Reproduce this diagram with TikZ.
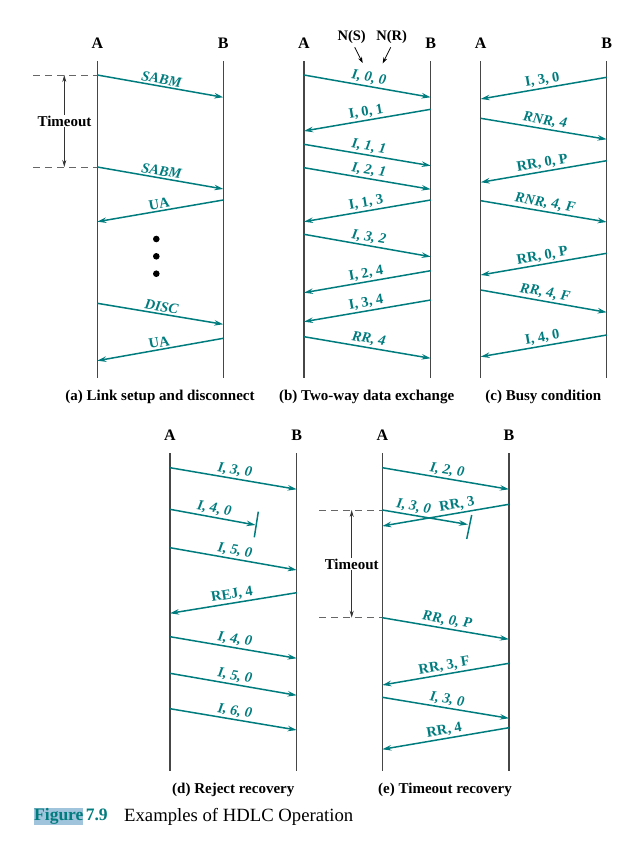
\documentclass[tikz,border=0pt]{standalone}
\usepackage{fontspec}
\setmainfont{Liberation Serif}
\usetikzlibrary{arrows.meta}
\definecolor{tealc}{RGB}{0,124,126}
\definecolor{hilite}{RGB}{160,196,220}
\definecolor{lifegray}{RGB}{70,70,70}
\newcommand{\hm}[7]{%
  \coordinate (#1s) at (#2,#3);
  \coordinate (#1e) at (#4,#5);
  \draw[msg] (#1s) -- node[#6] (#1l) {#7} (#1e);
}
\begin{document}
\begin{tikzpicture}[x=1pt,y=-1pt,
  msg/.style={draw=tealc,line width=1.5pt,-{Stealth[length=9pt,width=5.5pt]}},
  lblbase/.style={text=tealc,midway,above,sloped,inner sep=1.5pt},
  lit/.style={lblbase,font=\fontsize{14.5}{16}\selectfont\bfseries\itshape},
  lup/.style={lblbase,font=\fontsize{14.5}{16}\selectfont\bfseries},
  hdr/.style={font=\fontsize{16}{18}\selectfont\bfseries,inner sep=0pt},
  capt/.style={font=\fontsize{15}{17}\selectfont\bfseries,inner sep=0pt},
  lifeline/.style={draw=lifegray,line width=1.2pt},
  dashln/.style={draw=black!60,line width=1pt,dash pattern=on 7pt off 5pt},
  tmarrow/.style={draw=black!80,line width=0.9pt,{Stealth[length=7pt,width=4pt]}-{Stealth[length=7pt,width=4pt]}},
  tmlabel/.style={font=\fontsize{15}{17}\selectfont\bfseries,fill=white,inner sep=1pt},
  lostbar/.style={draw=tealc,line width=1.5pt},
  nlabel/.style={font=\fontsize{14.5}{16}\selectfont\bfseries,inner sep=1pt},
  narrow/.style={draw=black,line width=0.8pt,-{Stealth[length=6pt,width=4pt]}}
]
\useasboundingbox (0,0) rectangle (638,844);

% ---------------- (a) ----------------
\node[hdr] (aA) at (97.3,43.5) {A};
\node[hdr] (aB) at (223.3,43.5) {B};
\coordinate (aAt) at (97.3,61); \coordinate (aAb) at (97.3,378);
\coordinate (aBt) at (223.3,61); \coordinate (aBb) at (223.3,378);
\draw[lifeline] (aAt) -- (aAb);
\draw[lifeline] (aBt) -- (aBb);
\hm{a1}{97.3}{75}{223.3}{97.3}{lit}{SABM}
\hm{a2}{97.3}{167}{223.3}{189}{lit}{SABM}
\hm{a3}{223.3}{200}{97.3}{221.7}{lup}{UA}
\hm{a4}{97.3}{303.3}{223.3}{324.3}{lit}{DISC}
\hm{a5}{223.3}{338.3}{97.3}{360.7}{lup}{UA}
\coordinate (ad1) at (33,75); \coordinate (ad2) at (33,167);
\draw[dashln] (ad1) -- (a1s);
\draw[dashln] (ad2) -- (a2s);
\coordinate (at1) at (64.3,75); \coordinate (at2) at (64.3,167);
\draw[tmarrow] (at1) -- (at2);
\node[tmlabel] (aTO) at (64.5,121) {Timeout};
\fill (156.3,239) circle (3.3);
\fill (156.3,256.3) circle (3.3);
\fill (156.3,273.7) circle (3.3);
\node[capt] (capa) at (160,397) {(a) Link setup and disconnect};

% ---------------- (b) ----------------
\node[hdr] (bA) at (304,43.5) {A};
\node[hdr] (bB) at (430.7,43.5) {B};
\coordinate (bAt) at (304,61); \coordinate (bAb) at (304,378);
\coordinate (bBt) at (430.7,61); \coordinate (bBb) at (430.7,378);
\draw[lifeline] (bAt) -- (bAb);
\draw[lifeline] (bBt) -- (bBb);
\node[nlabel] (NS) at (351.7,37.5) {N(S)};
\node[nlabel] (NR) at (391.7,37.5) {N(R)};
\coordinate (NSe) at (362.7,63); \coordinate (NRe) at (382.7,63.3);
\draw[narrow] (NS.south) ++(3,2) -- (NSe);
\draw[narrow] (NR.south) ++(-1,2) -- (NRe);
\hm{b1}{304}{75}{430.7}{97.3}{lit}{I, 0, 0}
\hm{b2}{430.7}{109.3}{304}{131}{lup}{I, 0, 1}
\hm{b3}{304}{144.3}{430.7}{165.7}{lit}{I, 1, 1}
\hm{b4}{304}{167.7}{430.7}{189.3}{lit}{I, 2, 1}
\hm{b5}{430.7}{200}{304}{221.7}{lup}{I, 1, 3}
\hm{b6}{304}{234.3}{430.7}{256.7}{lit}{I, 3, 2}
\hm{b7}{430.7}{270.7}{304}{292.7}{lup}{I, 2, 4}
\hm{b8}{430.7}{300}{304}{321.7}{lup}{I, 3, 4}
\hm{b9}{304}{336.7}{430.7}{358.3}{lit}{RR, 4}
\node[capt] (capb) at (366.7,397.3) {(b) Two-way data exchange};

% ---------------- (c) ----------------
\node[hdr] (cA) at (480.7,43.5) {A};
\node[hdr] (cB) at (606.7,43.5) {B};
\coordinate (cAt) at (480.7,61); \coordinate (cAb) at (480.7,378);
\coordinate (cBt) at (606.7,61); \coordinate (cBb) at (606.7,378);
\draw[lifeline] (cAt) -- (cAb);
\draw[lifeline] (cBt) -- (cBb);
\hm{c1}{606.7}{77.3}{480.7}{99}{lup}{I, 3, 0}
\hm{c2}{480.7}{118.3}{606.7}{139.3}{lit}{RNR, 4}
\hm{c3}{606.7}{160.7}{480.7}{182.3}{lup}{RR, 0, P}
\hm{c4}{480.7}{200.7}{606.7}{222}{lit}{RNR, 4, F}
\hm{c5}{606.7}{253.3}{480.7}{275}{lup}{RR, 0, P}
\hm{c6}{480.7}{290}{606.7}{312.3}{lit}{RR, 4, F}
\hm{c7}{606.7}{335}{480.7}{356.7}{lup}{I, 4, 0}
\node[capt] (capc) at (543.3,397) {(c) Busy condition};

% ---------------- (d) ----------------
\node[hdr] (dA) at (170,435) {A};
\node[hdr] (dB) at (296.7,435) {B};
\coordinate (dAt) at (170,453.3); \coordinate (dAb) at (170,771);
\coordinate (dBt) at (296.7,453.3); \coordinate (dBb) at (296.7,771);
\draw[lifeline] (dAt) -- (dAb);
\draw[lifeline] (dBt) -- (dBb);
\hm{d1}{170}{467.7}{296.7}{489.3}{lit}{I, 3, 0}
\hm{d2}{170}{509.3}{255.5}{525}{lit}{I, 4, 0}
\coordinate (dx1) at (258.3,511.7); \coordinate (dx2) at (254.3,537.3);
\draw[lostbar] (dx1) -- (dx2);
\hm{d3}{170}{547.7}{296.7}{570}{lit}{I, 5, 0}
\hm{d4}{296.7}{592.7}{170}{613.3}{lup}{REJ, 4}
\hm{d5}{170}{636.7}{296.7}{658.3}{lit}{I, 4, 0}
\hm{d6}{170}{673.3}{296.7}{695.3}{lit}{I, 5, 0}
\hm{d7}{170}{708.7}{296.7}{730}{lit}{I, 6, 0}
\node[capt] (capd) at (233.3,790) {(d) Reject recovery};

% ---------------- (e) ----------------
\node[hdr] (eA) at (382.3,435) {A};
\node[hdr] (eB) at (509,435) {B};
\coordinate (eAt) at (382.3,453.3); \coordinate (eAb) at (382.3,771);
\coordinate (eBt) at (509,453.3); \coordinate (eBb) at (509,771);
\draw[lifeline] (eAt) -- (eAb);
\draw[lifeline] (eBt) -- (eBb);
\hm{e1}{382.3}{467.7}{509}{489.3}{lit}{I, 2, 0}
\hm{e2}{382.3}{510}{468}{524.5}{lit,pos=0.35}{I, 3, 0}
\coordinate (ex1) at (471.7,515); \coordinate (ex2) at (466.7,539);
\draw[lostbar] (ex1) -- (ex2);
\hm{e3}{509}{504.3}{382.3}{526}{lup,pos=0.4}{RR, 3}
\coordinate (ed1) at (319.3,510); \coordinate (ed2) at (319.3,617.7);
\hm{e4}{382.3}{617.7}{509}{639.3}{lit}{RR, 0, P}
\draw[dashln] (ed1) -- (e2s);
\draw[dashln] (ed2) -- (e4s);
\coordinate (et1) at (351.7,510); \coordinate (et2) at (351.7,617.7);
\draw[tmarrow] (et1) -- (et2);
\node[tmlabel] (eTO) at (351.7,564) {Timeout};
\hm{e5}{509}{663.3}{382.3}{685}{lup}{RR, 3, F}
\hm{e6}{382.3}{697.3}{509}{718.3}{lit}{I, 3, 0}
\hm{e7}{509}{727.7}{382.3}{749.3}{lup}{RR, 4}
\node[capt] (cape) at (445,790) {(e) Timeout recovery};

% ---------------- figure caption ----------------
\node[fill=hilite,inner sep=0pt,minimum height=17pt,anchor=west,text=tealc,
      font=\fontsize{17.5}{19}\selectfont\bfseries] (figw) at (34,816.5) {Figure};
\node[anchor=base west,inner sep=0pt,text=tealc,font=\fontsize{17.5}{19}\selectfont\bfseries]
      (fignum) at ([xshift=2pt]figw.base east) {7.9};
\node[anchor=base west,inner sep=0pt,font=\fontsize{18.7}{21}\selectfont]
      (figtxt) at (124,821) {Examples of HDLC Operation};
\end{tikzpicture}
\end{document}
